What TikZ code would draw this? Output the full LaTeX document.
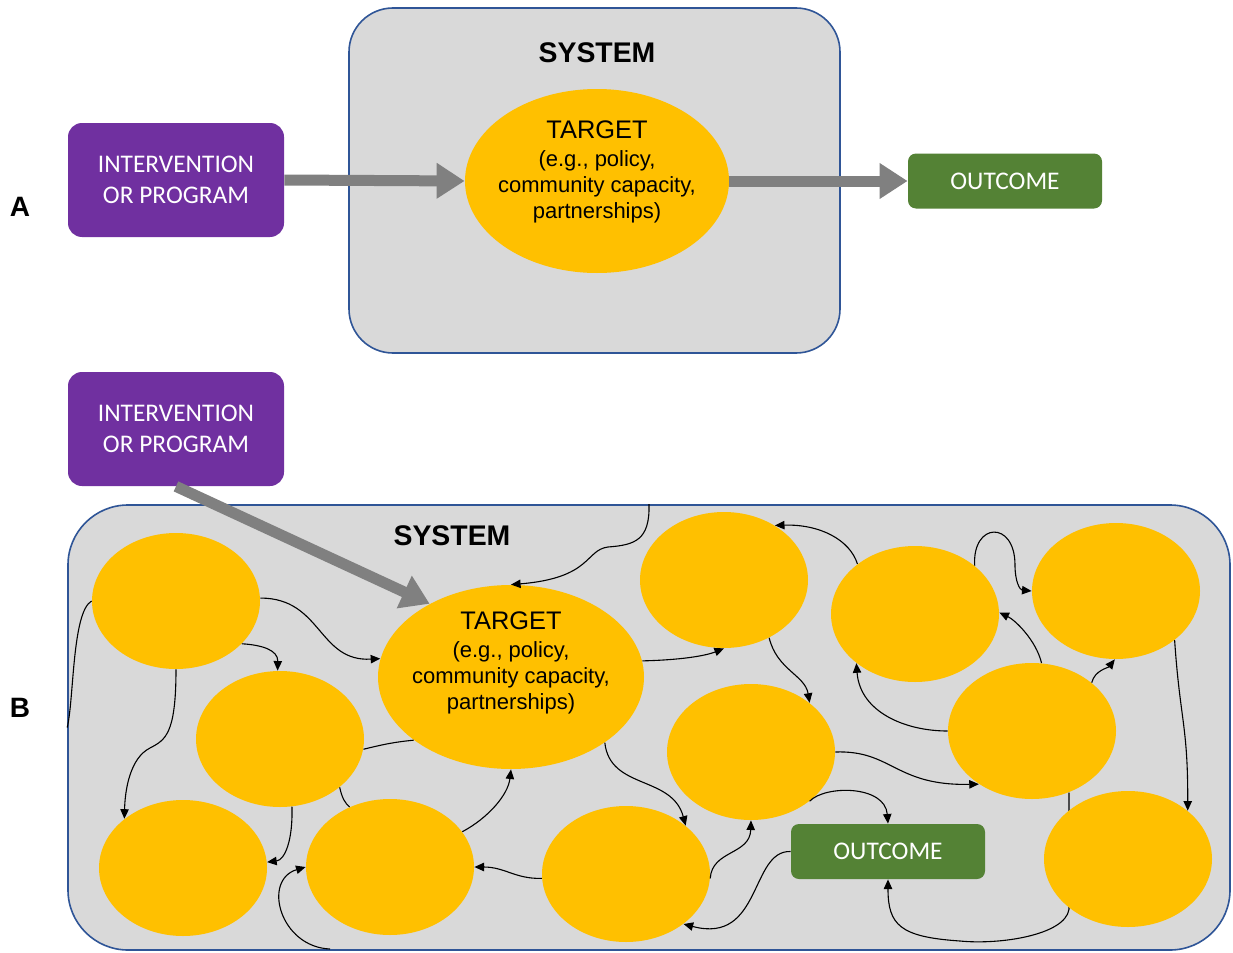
\documentclass[tikz,border=0pt]{standalone}
\usepackage{fontspec}
\setmainfont{Liberation Sans}
\newfontfamily\calibri{Carlito}
\usetikzlibrary{arrows.meta,shapes.geometric}
\definecolor{sysgray}{HTML}{D9D9D9}
\definecolor{sysblue}{HTML}{2F5597}
\definecolor{blobyellow}{HTML}{FFC000}
\definecolor{progpurple}{HTML}{7030A0}
\definecolor{outgreen}{HTML}{548235}
\definecolor{arrowgray}{HTML}{808080}

\begin{document}
\begin{tikzpicture}[x=0.5pt,y=-0.5pt,
    sysbox/.style={draw=sysblue,fill=sysgray,line width=0.8pt,inner sep=0pt},
    blob/.style={ellipse,fill=blobyellow,inner sep=0pt,minimum width=84pt,minimum height=68pt},
    progbox/.style={fill=progpurple,rounded corners=7pt,minimum width=108pt,minimum height=57pt,
        text=white,align=center,font=\calibri\fontsize{12.7}{15.5}\selectfont},
    outbox/.style={fill=outgreen,rounded corners=4pt,minimum width=97pt,minimum height=27.5pt,
        text=white,font=\calibri\fontsize{12.7}{15}\selectfont},
    bigarrow/.style={draw=arrowgray,line width=5.5pt,-{Triangle[length=14pt,width=17pt]}},
    link/.style={draw=black,line width=0.55pt,-{Triangle[length=4.8pt,width=4.2pt]}},
    plainlink/.style={draw=black,line width=0.55pt},
    tgttext/.style={align=center,font=\fontsize{11}{13}\selectfont},
    title/.style={font=\bfseries\fontsize{14.2}{17}\selectfont},
    panel/.style={font=\bfseries\fontsize{14}{17}\selectfont}]
      \path[fill=white,use as bounding box] (0,0) rectangle (1233,953);
      \node[sysbox,rounded corners=22pt,minimum width=245.5pt,minimum height=172.5pt] (sysA) at (594.5,180.5) {};
      \node[title] (sysAtitle) at (597,53) {SYSTEM};
      \node[blob,minimum width=132pt,minimum height=92pt] (tgtA) at (597,181) {};
      \node[tgttext] (tgtAtext) at (597,172) {{\fontsize{12.7}{15}\selectfont TARGET}\\[1pt](e.g., policy,\\community capacity,\\partnerships)};
      \node[progbox] (progA) at (176,180) {INTERVENTION\\OR PROGRAM};
      \node[outbox] (outA) at (1005,181) {OUTCOME};
      \node[panel] (labA) at (20,207) {A};
      \draw[bigarrow] (progA.east) -- (tgtA.west);
      \draw[bigarrow] (tgtA.east) -- (outA.west);

      \node[sysbox,rounded corners=30pt,minimum width=581pt,minimum height=222.5pt] (sysB) at (649,727.5) {};
      \node[title] (sysBtitle) at (452,536) {SYSTEM};
      \node[blob] (e1) at (176,601) {};
      \node[blob] (e2) at (280,739) {};
      \node[blob] (e3) at (183,868) {};
      \node[blob] (e4) at (390,867) {};
      \node[blob] (e5) at (626,874) {};
      \node[blob] (e6) at (724,580) {};
      \node[blob] (e7) at (751,752) {};
      \node[blob] (e8) at (915,614) {};
      \node[blob] (e9) at (1032,731) {};
      \node[blob] (e10) at (1116,591) {};
      \node[blob,minimum width=133pt,minimum height=92pt] (tgtB) at (511,677) {};
      \node[tgttext] (tgtBtext) at (511,663) {{\fontsize{12.7}{15}\selectfont TARGET}\\[1pt](e.g., policy,\\community capacity,\\partnerships)};
      \node[progbox] (progB) at (176,429) {INTERVENTION\\OR PROGRAM};
      \node[outbox] (outB) at (888,851.5) {OUTCOME};
      \node[panel] (labB) at (20,708) {B};
      \coordinate (botend) at (330,949);
      \draw[link] (e9.-59) -- ++(0,117) .. controls (1065,935) and (1000,945) .. (960,941) .. controls (900,937) and (888,925) .. (outB.south);
      \node[blob] (e11) at (1128,859) {};
      \draw[bigarrow] (progB.south) -- (tgtB.138);

      \draw[link] (e1.2) .. controls (322,598) and (318,662) .. (tgtB.172);
      \draw[link] (e1.-33) .. controls (262,645) and (278,650) .. (e2.92);
      \draw[link] (e1.south) .. controls (176,735) and (165,740) .. (150,748) .. controls (130,758) and (125,790) .. (e3.140);
      \draw[plainlink] (e1.west) .. controls (72,612) and (74,700) .. (sysB.west);
      \draw[link] (e2.-80) .. controls (293,840) and (285,860) .. (e3.4);
      \draw[plainlink] (e2.-7) .. controls (385,744) and (395,742) .. (tgtB.213);
      \draw[plainlink] (e2.-39) .. controls (342,798) and (345,803) .. (e4.124);
      \draw[link] (botend) .. controls (280,947) and (262,880) .. (e4.west);
      \draw[link] (e4.26) .. controls (488,818) and (508,795) .. (tgtB.south);
      \draw[link] (e5.183) .. controls (515,879) and (505,867) .. (e4.east);
      \draw[link] (sysB.north) .. controls (650,540) and (635,545) .. (608,547) .. controls (585,550) and (592,578) .. (tgtB.north);
      \draw[link] (tgtB.7) .. controls (680,660) and (705,656) .. (e6.-90);
      \draw[link] (tgtB.-35) .. controls (610,790) and (672,775) .. (e5.39);
      \draw[link] (e6.-52) .. controls (777,670) and (805,675) .. (e7.40);
      \draw[link] (e5.-3) .. controls (712,850) and (750,855) .. (e7.-90);
      \draw[link] (outB.west) .. controls (750,850) and (762,945) .. (e5.-41);
      \draw[link] (e7.0) .. controls (892,750) and (895,786) .. (e9.225);
      \draw[link] (e7.-40) .. controls (825,785) and (885,785) .. (outB.north);
      \draw[link] (e8.139) .. controls (850,540) and (820,524) .. (e6.47);
      \draw[link] (e8.39) .. controls (972,522) and (1015,520) .. (1015,565) .. controls (1015,582) and (1020,590) .. (e10.180);
      \draw[link] (e9.82) .. controls (1036,640) and (1015,620) .. (e8.1);
      \draw[link] (e9.180) .. controls (905,731) and (860,712) .. (e8.220);
      \draw[link] (e9.39) .. controls (1095,670) and (1108,668) .. (e10.-91);
      \draw[link] (e10.-40) .. controls (1180,720) and (1188,725) .. (e11.39);
    \end{tikzpicture}
\end{document}
